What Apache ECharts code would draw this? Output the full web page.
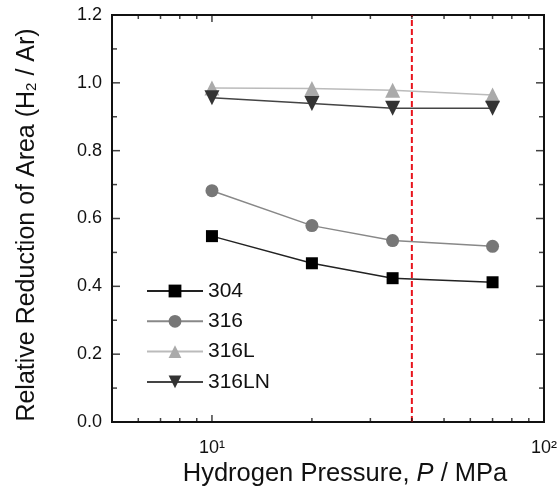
<!DOCTYPE html>
<html>
<head>
<meta charset="utf-8">
<script src="https://cdn.jsdelivr.net/npm/echarts@6/dist/echarts.min.js"></script>
<style>html,body{margin:0;padding:0;background:#fff}#c{width:560px;height:492px}</style>
</head>
<body>
<div id="c"></div>
<script>
// Data
const pressures = [10, 20, 35, 70];
const s304   = [0.548, 0.468, 0.424, 0.412];
const s316   = [0.682, 0.579, 0.535, 0.518];
const s316L  = [0.985, 0.983, 0.978, 0.964];
const s316LN = [0.956, 0.939, 0.925, 0.925];
const seriesNames = ['304', '316', '316L', '316LN'];
const refPressure = 40;
const xRange = [5, 100];
const yRange = [0, 1.2];
const xMajorTicks = [10, 100];
const xMinorTicks = [6, 7, 8, 9, 20, 30, 40, 50, 60, 70, 80, 90];
const yMajorTicks = [0.2, 0.4, 0.6, 0.8, 1.0];
const yMinorTicks = [0.1, 0.3, 0.5, 0.7, 0.9, 1.1];
const xTickText = {10: '10\u00B9', 100: '10\u00B2'};

const FONT = 'Arial';
const chart = echarts.init(document.getElementById('c'));

function pairs(vals) { return pressures.map((p, i) => [p, vals[i]]); }

const styles = [
  {sym: 'rect', size: 12, c: '#000', lc: '#222'},
  {sym: 'circle', size: 13, c: '#777', lc: '#888'},
  {sym: 'triangle', size: 15, c: '#aaa', lc: '#bbb'},
  {sym: 'path://M0,0 L10,0 L5,9 Z', size: 15, c: '#333', lc: '#444'}
];
const allData = [s304, s316, s316L, s316LN];

const series = allData.map((vals, i) => ({
  name: seriesNames[i], type: 'line',
  data: pairs(vals), symbol: styles[i].sym, symbolSize: styles[i].size,
  itemStyle: {color: styles[i].c},
  lineStyle: {color: styles[i].lc, width: 1.5},
  z: 3
}));
series.push({
  name: 'ref', type: 'line',
  data: [[refPressure, yRange[0]], [refPressure, yRange[1]]],
  symbol: 'none', silent: true, z: 2,
  lineStyle: {color: '#e8141c', type: [6, 3], width: 2}
});

// Tick marks as small rectangles placed through the axes' scales
function tickSeries(name, data, w, h, off) {
  return {
    name: name, type: 'scatter', silent: true, clip: false, z: 5,
    data: data, symbol: 'rect', symbolSize: [w, h], symbolOffset: off,
    itemStyle: {color: '#111'}, animation: false
  };
}
series.push(tickSeries('tb1', xMajorTicks.map(v => [v, yRange[0]]), 1.5, 7, [0, -3.5]));
series.push(tickSeries('tb2', xMinorTicks.map(v => [v, yRange[0]]), 1.5, 4, [0, -2]));
series.push(tickSeries('tt1', xMajorTicks.map(v => [v, yRange[1]]), 1.5, 7, [0, 3.5]));
series.push(tickSeries('tt2', xMinorTicks.map(v => [v, yRange[1]]), 1.5, 4, [0, 2]));
series.push(tickSeries('tl1', yMajorTicks.map(v => [xRange[0], v]), 8, 1.5, [4, 0]));
series.push(tickSeries('tl2', yMinorTicks.map(v => [xRange[0], v]), 5, 1.5, [2.5, 0]));
series.push(tickSeries('tr1', yMajorTicks.map(v => [xRange[1], v]), 8, 1.5, [-4, 0]));
series.push(tickSeries('tr2', yMinorTicks.map(v => [xRange[1], v]), 5, 1.5, [-2.5, 0]));

chart.setOption({
  animation: false,
  grid: {left: 112, right: 13, top: 15, bottom: 70, show: true, borderColor: '#111', borderWidth: 2, backgroundColor: 'transparent'},
  xAxis: {
    type: 'log', logBase: 10, min: xRange[0], max: xRange[1],
    axisLine: {show: true, lineStyle: {color: '#111', width: 2}},
    axisTick: {show: false},
    minorTick: {show: false},
    axisLabel: {
      show: true, customValues: xMajorTicks, margin: 17, fontSize: 18, color: '#111',
      formatter: v => xTickText[v]
    },
    splitLine: {show: false}
  },
  yAxis: {
    type: 'value', min: yRange[0], max: yRange[1], interval: 0.2,
    axisLine: {show: true, lineStyle: {color: '#111', width: 2}},
    axisTick: {show: false},
    minorTick: {show: false},
    axisLabel: {show: true, formatter: v => v.toFixed(1), fontSize: 18, color: '#111', margin: 10},
    splitLine: {show: false}
  },
  legend: {
    left: 146, top: 280, orient: 'vertical', padding: 0,
    itemWidth: 56, itemHeight: 16, itemGap: 8.3,
    textStyle: {fontSize: 21, fontFamily: FONT, color: '#111', lineHeight: 22},
    data: seriesNames
  },
  graphic: [
    {
      type: 'text', x: 27, y: 225, rotation: Math.PI / 2,
      style: {
        text: 'Relative Reduction of Area ({t|H}{sub|2}{t| / Ar)}',
        fontSize: 25, fontFamily: FONT, fill: '#111',
        align: 'center', verticalAlign: 'middle',
        rich: {
          t: {fontSize: 25, fontFamily: FONT, color: '#111'},
          sub: {fontSize: 15, fontFamily: FONT, color: '#111', verticalAlign: 'bottom', padding: [8, 0, 0, 0]}
        }
      }
    },
    {
      type: 'text', x: 345, y: 474,
      style: {
        text: 'Hydrogen Pressure, {i|P} / MPa',
        fontSize: 25.5, fontFamily: FONT, fill: '#111',
        align: 'center', verticalAlign: 'middle',
        rich: {i: {fontSize: 25.5, fontFamily: FONT, fontStyle: 'italic', color: '#111'}}
      }
    }
  ],
  series: series
});
</script>
</body>
</html>
